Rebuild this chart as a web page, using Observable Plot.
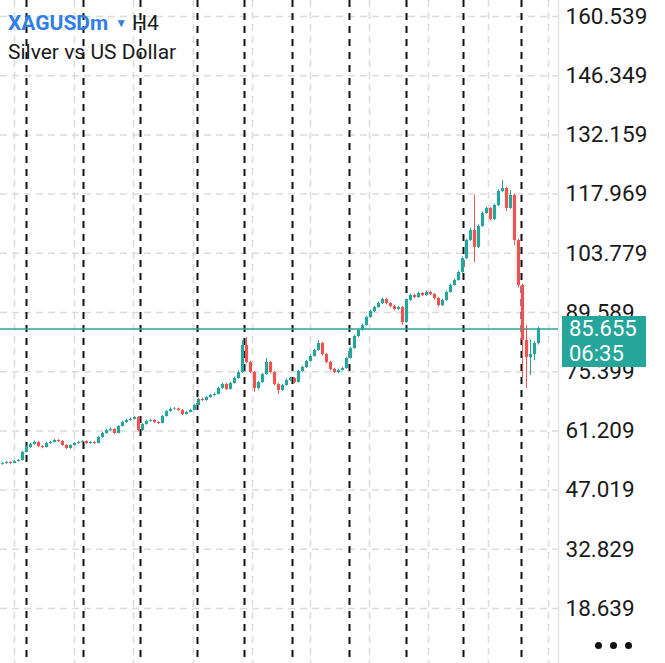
<!DOCTYPE html>
<html><head><meta charset="utf-8">
<script src="https://cdn.jsdelivr.net/npm/d3@7"></script>
<script src="https://cdn.jsdelivr.net/npm/@observablehq/plot@0.6"></script>
<style>
html,body{margin:0;padding:0;background:#fff;}
#wrap{position:relative;width:665px;height:663px;overflow:hidden;font-family:Roboto,sans-serif;}
#title{position:absolute;left:8px;top:10px;font-size:21px;line-height:26px;color:#1a1a1a;white-space:nowrap;}
#title .sym{color:#2f7fe6;font-weight:700;}
#title .tri{color:#2f7fe6;font-size:12px;margin:0 5px 0 7px;position:relative;top:-3px;}
#pricebox{position:absolute;left:562px;width:77px;height:51px;padding-left:7px;background:#26a69a;color:#fff;font-size:22px;line-height:25px;}
#dots{position:absolute;left:595px;top:634px;}
#dots span{display:inline-block;width:7px;height:7px;border-radius:50%;background:#111;margin-right:8px;}
</style></head><body><div id="wrap"></div>
<script>
const symbol = "XAGUSDm";
const timeframe = "H4";
const description = "Silver vs US Dollar";
const lastPrice = 85.655;
const timer = "06:35";
const priceTicks = [160.539,146.349,132.159,117.969,103.779,89.589,75.399,61.209,47.019,32.829,18.639];
const firstOpen = 53.20;
const closes = [53.40,53.64,53.40,53.88,54.12,56.04,57.23,57.95,58.43,57.47,
57.23,58.19,58.43,58.91,58.67,57.71,56.99,57.71,58.19,58.43,
58.67,58.19,58.43,58.19,59.63,60.59,61.31,61.55,60.59,62.27,
63.23,63.71,63.95,64.42,61.31,62.75,63.47,63.71,63.23,62.99,
64.66,65.86,66.34,66.45,66.10,65.14,65.62,66.10,67.30,68.74,
68.50,69.22,69.70,69.94,71.38,72.33,71.14,72.57,73.77,75.21,
81.68,77.61,75.21,71.38,72.81,74.73,77.61,75.21,72.33,70.90,
72.09,73.29,73.77,72.81,75.45,76.41,77.85,79.05,80.48,82.16,
79.52,77.61,75.93,75.21,75.70,76.17,78.57,80.96,83.84,85.28,
86.48,88.39,89.83,90.79,91.75,92.71,91.75,91.03,90.31,90.79,
87.19,92.47,93.67,93.19,94.15,93.67,94.39,93.91,92.95,91.27,
92.47,94.39,96.06,97.26,99.18,102.54,106.85,109.25,105.20,110.21,
113.32,114.52,111.88,115.24,118.59,119.31,114.52,117.64,106.85,96.06,
82.88,78.81,79.50,82.16,85.655];
const highs = [53.60,53.90,53.80,54.10,54.40,56.30,57.60,58.30,58.80,58.70,
57.70,58.50,58.70,59.20,59.10,58.90,57.90,57.90,58.40,58.70,
58.90,58.80,58.70,58.60,59.90,60.90,61.60,61.90,61.70,62.50,
63.50,64.00,64.30,64.70,64.60,63.00,63.80,64.00,63.90,63.40,
64.90,66.10,66.70,66.80,66.70,66.30,65.90,66.40,67.60,69.00,
69.10,69.50,70.00,70.30,71.70,72.70,72.60,72.90,74.10,75.60,
82.88,83.60,77.90,75.50,73.10,75.00,78.57,77.90,75.50,72.60,
72.40,73.60,74.10,74.00,75.70,76.70,78.10,79.40,80.80,82.88,
82.40,79.80,77.90,76.20,76.00,76.50,78.90,81.30,84.20,85.60,
86.80,88.70,90.20,91.10,92.10,93.10,93.00,92.00,91.30,91.10,
91.00,92.80,94.00,94.00,94.50,94.40,94.70,94.70,94.10,93.20,
92.80,94.70,96.40,97.60,99.50,102.90,107.20,109.70,117.64,110.60,
113.70,114.90,114.80,115.60,119.00,121.23,119.60,118.80,118.00,107.20,
96.40,86.50,83.00,82.60,86.10];
const lows = [53.00,53.20,53.10,53.30,53.70,54.00,55.90,57.00,57.80,57.20,
56.90,57.10,58.00,58.30,58.40,57.50,56.70,56.80,57.60,58.00,
58.30,58.00,58.00,57.90,58.10,59.50,60.40,61.10,60.30,60.50,
62.10,63.00,63.50,63.80,61.00,61.10,62.60,63.30,63.00,62.70,
62.90,64.50,65.70,66.10,65.90,64.90,65.00,65.50,66.00,67.10,
68.20,68.30,69.00,69.50,69.80,71.20,70.90,71.00,72.40,73.60,
75.00,77.30,74.90,70.42,71.00,72.60,74.50,74.90,72.00,69.94,
70.70,71.90,73.00,72.50,72.70,75.30,76.20,77.70,78.90,80.30,
79.20,77.30,75.60,74.90,74.90,75.50,76.00,78.40,80.80,83.60,
85.10,86.30,88.20,89.60,90.60,91.50,91.40,90.70,90.00,90.10,
86.48,87.00,92.30,92.90,93.00,93.40,93.50,93.60,92.60,90.90,
91.00,92.30,94.20,95.90,97.10,99.00,102.30,106.60,101.58,104.90,
110.00,113.10,111.50,111.60,115.00,118.30,113.80,114.30,105.65,95.50,
74.01,71.38,74.50,78.00,81.80];
// weekly period separators and time grid (in bar-index units)
const separators = [6.0,20.25,34.5,48.75,60.5,72.5,86.75,101,115.25,129.75];
const timeGrid = [3,18,32.75,47.75,62.5,77,91.75,106.5,121.5,136.5];

const bars = closes.map((c, i) => {
  const o = i === 0 ? firstOpen : closes[i - 1];
  return {i, open: o, close: c, high: highs[i], low: lows[i], up: c >= o};
});
const bull = "#26a69a", bear = "#ef5350";

const chart = Plot.plot({
  width: 665, height: 663,
  marginTop: 0, marginBottom: 0, marginLeft: 0, marginRight: 107,
  style: {background: "#fff", fontFamily: "Roboto, sans-serif"},
  x: {type: "linear", domain: [-0.5, 139], axis: null},
  y: {domain: [18.639, 160.539], range: [608, 16], axis: null},
  marks: [
    Plot.ruleX(timeGrid, {x: d => d, stroke: "#dcdcdc", strokeWidth: 1.5, strokeDasharray: "7,5"}),
    Plot.ruleY(priceTicks, {y: d => d, stroke: "#dcdcdc", strokeWidth: 1.5, strokeDasharray: "7,5"}),
    Plot.ruleX(separators, {x: d => d, stroke: "#111", strokeWidth: 2, strokeDasharray: "7,6"}),
    Plot.ruleX([139], {x: d => d, stroke: "#e2e2e2", strokeWidth: 1.5}),
    Plot.ruleY([lastPrice], {y: d => d, stroke: bull, strokeWidth: 1.5}),
    Plot.ruleX(bars, {x: "i", y1: "low", y2: "high", stroke: d => d.up ? bull : bear, strokeWidth: 1}),
    Plot.ruleX(bars, {x: "i", y1: "open", y2: "close", stroke: d => d.up ? bull : bear, strokeWidth: 3.2}),
    Plot.text(priceTicks, {y: d => d, text: d => d3.format(".3f")(d), frameAnchor: "right", dx: 7, textAnchor: "start", lineAnchor: "middle", fontSize: 22.5, fill: "#1a1a1a"})
  ]
});

const wrap = document.getElementById("wrap");
wrap.appendChild(chart);

const title = document.createElement("div");
title.id = "title";
title.innerHTML = `<span class="sym">${symbol}</span><span class="tri">▼</span>${timeframe}<br>${description}`;
wrap.appendChild(title);

const yScale = chart.scale("y");
const py = yScale.apply(lastPrice);
const box = document.createElement("div");
box.id = "pricebox";
box.style.top = (py - 12) + "px";
box.innerHTML = `${d3.format(".3f")(lastPrice)}<br>${timer}`;
wrap.appendChild(box);

const dots = document.createElement("div");
dots.id = "dots";
dots.innerHTML = "<span></span><span></span><span></span>";
wrap.appendChild(dots);
</script></body></html>
